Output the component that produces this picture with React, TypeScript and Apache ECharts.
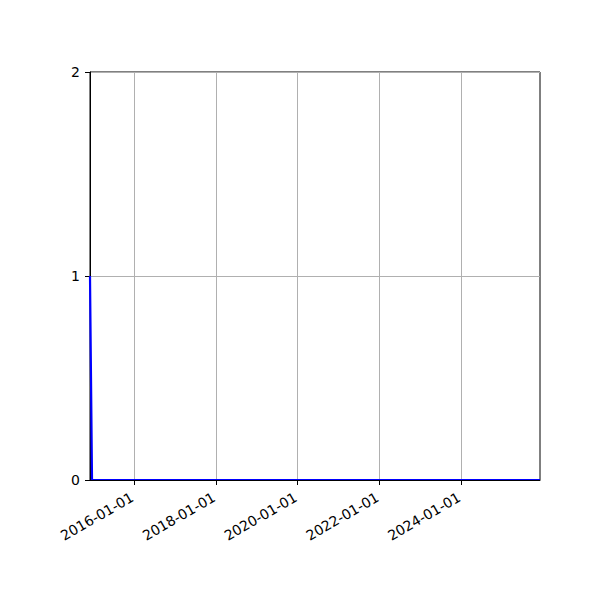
import React, { useEffect, useRef } from "react";
import * as echarts from "echarts";

const xStart = "2014-12-04";
const xEnd = "2025-12-07";
const tickDates = ["2016-01-01", "2018-01-01", "2020-01-01", "2022-01-01", "2024-01-01"];
const seriesDates = ["2014-12-04", "2014-12-22", "2025-12-07"];
const seriesValues = [1, 0, 0];
const yTicks = [0, 1, 2];

const ts = (d: string) => Date.parse(d + "T00:00:00Z");

export default function App() {
  const ref = useRef<HTMLDivElement>(null);
  useEffect(() => {
    if (!ref.current) return;
    const chart = echarts.init(ref.current, null, { renderer: "svg" });
    const font = "DejaVu Sans";
    chart.setOption({
      animation: false,
      backgroundColor: "#ffffff",
      grid: {
        left: 90,
        right: 60,
        top: 72,
        bottom: 120,
        show: true,
        borderColor: "#000000",
        borderWidth: 1,
        backgroundColor: "transparent",
      },
      xAxis: {
        type: "value",
        min: ts(xStart),
        max: ts(xEnd),
        z: 5,
        axisLine: { show: true, onZero: false, lineStyle: { color: "#000", width: 1 } },
        axisTick: {
          show: true,
          length: 5,
          lineStyle: { color: "#000", width: 1 },
          customValues: tickDates.map(ts),
        },
        axisLabel: {
          customValues: tickDates.map(ts),
          rotate: 30,
          color: "#000",
          fontFamily: font,
          fontSize: 14,
          margin: 15,
          padding: [0, 2, 0, 0],
          formatter: (v: number) => {
            const d = new Date(v);
            const mm = String(d.getUTCMonth() + 1).padStart(2, "0");
            const dd = String(d.getUTCDate()).padStart(2, "0");
            return `${d.getUTCFullYear()}-${mm}-${dd}`;
          },
        },
        splitLine: { show: false },
      },
      yAxis: {
        type: "value",
        min: yTicks[0],
        max: yTicks[yTicks.length - 1],
        interval: 1,
        axisLine: { show: true, lineStyle: { color: "#000", width: 1 } },
        axisTick: { show: true, length: 5, lineStyle: { color: "#000", width: 1 } },
        axisLabel: { color: "#000", fontFamily: font, fontSize: 14, margin: 10 },
        splitLine: { show: true, lineStyle: { color: "#b0b0b0", width: 1 } },
      },
      series: [
        {
          type: "line",
          data: seriesDates.map((d, i) => [ts(d), seriesValues[i]]),
          showSymbol: false,
          symbol: "none",
          clip: true,
          lineStyle: { color: "#0000ff", width: 2.2 },
          itemStyle: { color: "#0000ff" },
          markLine: {
            silent: true,
            symbol: "none",
            label: { show: false },
            lineStyle: { color: "#b0b0b0", width: 1, type: "solid" },
            data: tickDates.map((d) => ({ xAxis: ts(d) })),
            z: 1,
          },
        },
      ],
    });
    return () => chart.dispose();
  }, []);
  return (
    <div
      ref={ref}
      style={{ position: "fixed", left: 0, top: 0, width: 600, height: 600 }}
    />
  );
}
